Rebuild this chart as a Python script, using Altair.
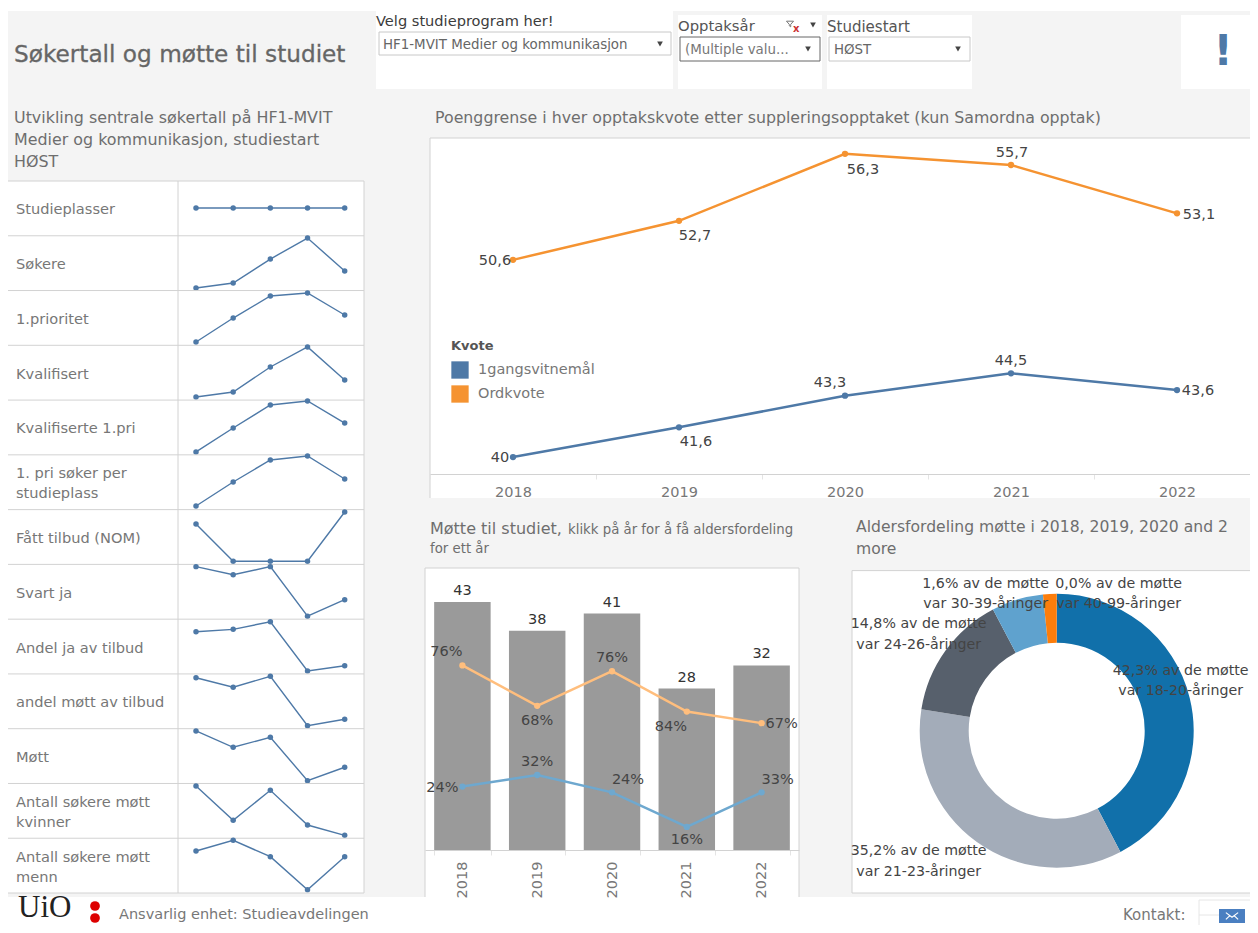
import altair as alt
import pandas as pd

YEARS = [2018, 2019, 2020, 2021, 2022]

# Sparkline rows: label lines and relative level
ROW_LABELS = [
    ["Studieplasser"], ["Søkere"], ["1.prioritet"], ["Kvalifisert"], ["Kvalifiserte 1.pri"],
    ["1. pri søker per", "studieplass"], ["Fått tilbud (NOM)"], ["Svart ja"], ["Andel ja av tilbud"],
    ["andel møtt av tilbud"], ["Møtt"], ["Antall søkere møtt", "kvinner"], ["Antall søkere møtt", "menn"],
]
ROW_LEVELS = [
    [50.8, 50.8, 50.8, 50.8, 50.8],
    [4.6, 13.7, 57.5, 95.9, 35.6],
    [6.0, 49.8, 90.0, 95.5, 55.3],
    [5.7, 14.8, 60.4, 97.0, 36.7],
    [5.3, 49.0, 91.0, 98.4, 58.0],
    [6.6, 50.4, 90.6, 97.9, 55.9],
    [73.8, 5.7, 5.7, 5.7, 95.7],
    [95.9, 81.2, 95.9, 5.3, 35.6],
    [77.0, 81.4, 95.3, 5.3, 15.0],
    [93.1, 75.6, 95.7, 5.5, 17.2],
    [95.9, 66.1, 84.4, 5.1, 29.6],
    [95.3, 32.7, 87.5, 24.1, 5.3],
    [76.7, 96.2, 66.3, 6.0, 66.3],
]

# Poenggrense
KVOTE_1G = [40.0, 41.6, 43.3, 44.5, 43.6]
KVOTE_ORD = [50.6, 52.7, 56.3, 55.7, 53.1]

# Møtte
MOTT = [43, 38, 41, 28, 32]
KVINNER = [32, 25, 31, 24, 22]
MENN = [11, 13, 10, 4, 10]
KVINNER_PCT = ["76%", "68%", "76%", "84%", "67%"]
MENN_PCT = ["24%", "32%", "24%", "16%", "33%"]

# Aldersfordeling
AGE_GROUPS = ["18-20", "21-23", "24-26", "27-29", "30-39", "40-99"]
AGE_SHARE = [42.3, 35.2, 14.8, 6.1, 1.6, 0.0]
AGE_COLORS = ["#1170aa", "#a3acb9", "#57606c", "#5fa2ce", "#fc7d0b", "#c85200"]

# Label placement, kept apart from the values (dx, dy in px)
POENG_OFFSETS = {
    "1gangsvitnemål": [(-13, 1), (17, 15), (-15, -13), (0, -12), (21, 1)],
    "Ordkvote": [(-18, 1), (16, 15), (18, 16), (1, -12), (22, 2)],
}
KV_OFFSETS = [(-16, -13), (0, 15), (0, -13), (-16, 15), (20, 1)]
ME_OFFSETS = [(-20, 1), (0, -13), (16, -12), (0, 13), (16, -12)]

GREY = "#f4f4f4"
TXT = "#6e6e6e"
DARK = "#444444"
LINE = "#d2d2d2"
FONT = "DejaVu Sans"
ONE = alt.Data(values=[{}])


def text(lines, x, y, size=14, color=TXT, align="left", weight="normal", font=FONT, lh=None, **extra):
    kw = dict(text=lines, align=align, baseline="middle", fontSize=size, color=color,
              fontWeight=weight, font=font, **extra)
    if lh:
        kw["lineHeight"] = lh
    if isinstance(lines, list) and lh:
        y = y - (len(lines) - 1) * lh / 2
    return alt.Chart(ONE).mark_text(**kw).encode(x=alt.value(x), y=alt.value(y + 1))


def box(x0, y0, x1, y1, fill="white", stroke=None, sw=1):
    kw = dict(fill=fill)
    if stroke:
        kw.update(stroke=stroke, strokeWidth=sw)
    return alt.Chart(ONE).mark_rect(**kw).encode(
        x=alt.value(x0), x2=alt.value(x1), y=alt.value(y0), y2=alt.value(y1))


def hline(y, x0, x1, color=LINE, sw=1):
    return alt.Chart(ONE).mark_rule(color=color, strokeWidth=sw).encode(
        x=alt.value(x0), x2=alt.value(x1), y=alt.value(y))


def vline(x, y0, y1, color=LINE, sw=1):
    return alt.Chart(ONE).mark_rule(color=color, strokeWidth=sw).encode(
        x=alt.value(x), y=alt.value(y0), y2=alt.value(y1))


def arrow(x, y):
    return alt.Chart(ONE).mark_point(shape="triangle-down", filled=True, size=32, color="#444444", opacity=1).encode(
        x=alt.value(x), y=alt.value(y))


def glyph(path, x, y, size, color, sw=1.5):
    return alt.Chart(ONE).mark_point(shape=path, size=size, opacity=1, strokeWidth=sw, filled=False,
                                     stroke=color, fill="transparent").encode(x=alt.value(x), y=alt.value(y))


W, H = 1242, 917

# ---------- header ----------
header = [
    box(-1, -1, W + 1, 3),
    box(368, 3, 665, 81),
    box(670, 7, 814, 81),
    box(819, 7, 964, 81),
    box(1173, 7, W + 1, 81),
    text("Søkertall og møtte til studiet", 6, 46, size=23.2, color="#666666", stroke="#666666", strokeWidth=0.3),
    text("Velg studieprogram her!", 368, 13, size=14.6, color="#3c3c3c"),
    box(371, 24, 663, 47, stroke="#c8c8c8"),
    text("HF1-MVIT Medier og kommunikasjon", 375, 36, size=13.4, color="#666666"),
    arrow(652, 36),
    text("Opptaksår", 670, 18, size=14.8, color="#555555"),
    glyph("M-1,-0.8L1,-0.8L0.2,0.1L0.2,0.8L-0.2,0.5L-0.2,0.1Z", 782, 16, 50, "#777777", sw=1),
    text("x", 785, 20, size=10, color="#cc3333", weight="bold"),
    arrow(805, 17),
    box(672, 29, 812, 53, stroke="#666666"),
    text("(Multiple valu...", 677, 41, size=13.4, color="#777777"),
    arrow(800, 41),
    text("Studiestart", 819, 18, size=15, color="#555555"),
    box(821, 29, 962, 53, stroke="#c8c8c8"),
    text("HØST", 826, 41, size=13.4, color="#666666"),
    arrow(950, 41),
    text("!", 1215, 43, size=42, color="#4e79a7", weight="bold", align="center"),
]

# ---------- sparkline table ----------
ROW_H = 54.77
TOP = 173
ROW_W = 356

table = [box(-1, TOP, ROW_W, TOP + 13 * ROW_H)]
for i, (label, levels) in enumerate(zip(ROW_LABELS, ROW_LEVELS)):
    t = TOP + i * ROW_H
    df = pd.DataFrame({"year": YEARS, "level": levels})
    base = alt.Chart(df).encode(
        x=alt.X("year:O", axis=None, scale=alt.Scale(type="point", range=[188, 336.7], padding=0)),
        y=alt.Y("level:Q", axis=None, scale=alt.Scale(domain=[0, 100], range=[t + ROW_H, t])),
    )
    table += [
        hline(t, 0, ROW_W),
        text(label, 8, t + ROW_H / 2 + 1, size=14.6, color="#777777", lh=20),
        alt.layer(base.mark_line(color="#4e79a7", strokeWidth=1.4),
                  base.mark_point(filled=True, color="#4e79a7", size=30, opacity=1)),
    ]
table += [
    hline(TOP + 13 * ROW_H, 0, ROW_W),
    vline(170, TOP, TOP + 13 * ROW_H),
    vline(ROW_W, TOP, TOP + 13 * ROW_H),
    text(["Utvikling sentrale søkertall på HF1-MVIT", "Medier og kommunikasjon, studiestart", "HØST"],
         6, 131, size=15.9, lh=22),
]

# ---------- Poenggrense ----------
poeng = pd.DataFrame({
    "year": YEARS * 2,
    "Kvote": ["1gangsvitnemål"] * 5 + ["Ordkvote"] * 5,
    "value": KVOTE_1G + KVOTE_ORD,
})
poeng["label"] = [f"{v:g}".replace(".", ",") for v in poeng["value"]]

px = alt.X("year:O", title=None, scale=alt.Scale(type="band", range=[422, 1252], paddingInner=0, paddingOuter=0),
           axis=alt.Axis(orient="bottom", labelAngle=0, labelFontSize=14.5, labelColor="#777777", labelFont=FONT,
                         labelPadding=6, offset=466 - H, domainColor=LINE, tickColor="#e4e4e4", tickSize=5,
                         tickBand="extent", grid=False, zindex=1))
py = alt.Y("value:Q", axis=None, scale=alt.Scale(domain=[39.09, 57.15], range=[466, 130], zero=False, nice=False))
pcolor = alt.Color("Kvote:N", scale=alt.Scale(domain=["1gangsvitnemål", "Ordkvote"], range=["#4e79a7", "#f59331"]),
                   legend=alt.Legend(orient="none", legendX=443, legendY=332, title="Kvote", titleFont=FONT,
                                     titleFontSize=13, titleColor="#555555", titleFontWeight=600, titlePadding=8,
                                     labelFont=FONT, labelFontSize=14.5, labelColor="#777777", symbolType="square",
                                     symbolSize=300, symbolOpacity=1, symbolStrokeWidth=0, rowPadding=6,
                                     labelOffset=9))
pbase = alt.Chart(poeng).encode(x=px, y=py, color=pcolor)
poeng_layers = [pbase.mark_line(strokeWidth=2.5), pbase.mark_point(filled=True, size=40, opacity=1)]
for kv, offs in POENG_OFFSETS.items():
    sub = poeng[poeng["Kvote"] == kv]
    for (_, r), (dx, dy) in zip(sub.iterrows(), offs):
        poeng_layers.append(
            alt.Chart(pd.DataFrame([r])).mark_text(dx=dx, dy=dy, fontSize=14.5, font=FONT, color=DARK).encode(
                x=px, y=py, text="label:N"))
poeng_panel = [
    box(422, 130, W + 1, 490),
    hline(130, 422, W + 1),
    vline(422, 130, 490),
    alt.layer(*poeng_layers),
    text("Poenggrense  i hver opptakskvote etter suppleringsopptaket (kun Samordna opptak)", 427, 109, size=15.8),
]

# ---------- Møtte ----------
mdf = pd.DataFrame({"year": YEARS, "mott": MOTT})
mx = alt.X("year:O", title=None, scale=alt.Scale(type="band", range=[417, 791], paddingInner=0.245, paddingOuter=0.1225),
           axis=alt.Axis(orient="bottom", labelAngle=-90, labelFontSize=14.5, labelColor="#777777", labelFont=FONT,
                         labelPadding=6, offset=842 - H, domainColor=LINE, tickColor="#e4e4e4", tickSize=5,
                         tickBand="extent", grid=False, zindex=1))
my = alt.Y("mott:Q", axis=None, scale=alt.Scale(domain=[0, 48.9], range=[842, 560], nice=False))
mbase = alt.Chart(mdf).encode(x=mx, y=my)
bar_layers = [
    mbase.mark_bar(color="#9a9a9a"),
    mbase.mark_text(dy=-11, fontSize=14.5, font=FONT, color="#333333").encode(text="mott:Q"),
]
for vals, pct, col in [(KVINNER, KVINNER_PCT, "#ffbe7d"), (MENN, MENN_PCT, "#6ea8cf")]:
    d = pd.DataFrame({"year": YEARS, "mott": vals, "pct": pct})
    b = alt.Chart(d).encode(x=mx, y=my)
    bar_layers += [b.mark_line(color=col, strokeWidth=2.5), b.mark_point(filled=True, color=col, size=40, opacity=1)]
for vals, pct, offs in [(KVINNER, KVINNER_PCT, KV_OFFSETS), (MENN, MENN_PCT, ME_OFFSETS)]:
    for y, v, p, (dx, dy) in zip(YEARS, vals, pct, offs):
        d = pd.DataFrame({"year": [y], "mott": [v], "pct": [p]})
        bar_layers.append(alt.Chart(d).mark_text(dx=dx, dy=dy, fontSize=14.5, font=FONT, color=DARK).encode(
            x=mx, y=my, text="pct:N"))
bar_panel = [
    box(417, 560, 791, 889),
    hline(560, 417, 791),
    vline(417, 560, 889),
    vline(791, 560, 889),
    alt.layer(*bar_layers),
    text("Møtte til studiet,", 422, 520, size=16),
    text("klikk på år for å få aldersfordeling", 560, 521, size=13.3),
    text("for ett år", 422, 540, size=13.3),
]

# ---------- Aldersfordeling ----------
age = pd.DataFrame({"group": AGE_GROUPS, "share": AGE_SHARE, "idx": range(6)})
CX, CY = 1048.7, 722.7
DONUT_LABELS = {
    "18-20": (124, -50.5, "42,3%"),
    "21-23": (-138, 130, "35,2%"),
    "24-26": (-138, -97, "14,8%"),
    "30-39": (-71, -137.5, "1,6%"),
    "40-99": (62, -137.5, "0,0%"),
}
donut_panel = [
    box(844, 562.6, W + 3, 885, stroke=LINE),
    alt.Chart(age).mark_arc(innerRadius=88, outerRadius=137).encode(
        theta=alt.Theta("share:Q", stack=True),
        color=alt.Color("group:N", legend=None, scale=alt.Scale(domain=AGE_GROUPS, range=AGE_COLORS)),
        order=alt.Order("idx:Q"),
        x=alt.value(CX), y=alt.value(CY),
    ),
    text(["Aldersfordeling møtte i 2018, 2019, 2020 and 2", "more"], 848, 529, size=15.6, lh=21.5),
]
for g, (dx, dy, pct) in DONUT_LABELS.items():
    donut_panel.append(text([f"{pct} av de møtte", f"var {g}-åringer"], CX + dx, CY + dy, size=14.2,
                            color=DARK, align="center", lh=20.5))

# ---------- footer ----------
footer = [
    box(-1, 889, W + 1, H + 1),
    text("UiO", 10, 899, size=31, color="#222222", font="Liberation Serif"),
    alt.Chart(ONE).mark_point(filled=True, color="#dd0000", size=95, opacity=1).encode(x=alt.value(87), y=alt.value(898)),
    alt.Chart(ONE).mark_point(filled=True, color="#dd0000", size=95, opacity=1).encode(x=alt.value(87), y=alt.value(910)),
    text("Ansvarlig enhet: Studieavdelingen", 111, 906, size=14.5, color="#777777"),
    text("Kontakt:", 1115, 906, size=15, color="#777777"),
    hline(892, 1191, W + 1, color="#e6e6e6"),
    hline(907, 1191, 1211, color="#e6e6e6"),
    vline(1191, 892, H + 1, color="#e6e6e6"),
    box(1211, 901, 1237, 915, fill="#4a7fc1"),
    glyph("M-1,-0.55L0,0.2L1,-0.55M-1,0.55L-0.3,-0.1M1,0.55L0.3,-0.1", 1224, 908, 150, "white", sw=1.2),
]

chart = alt.layer(*header, *table, *poeng_panel, *bar_panel, *donut_panel, *footer).resolve_scale(
    x="independent", y="independent", color="independent"
).properties(
    width=W, height=H, background=GREY, padding=0, autosize=alt.AutoSizeParams(type="none")
).configure_view(stroke="transparent")

chart.save("out.html", embed_options={"renderer": "svg", "actions": False})
